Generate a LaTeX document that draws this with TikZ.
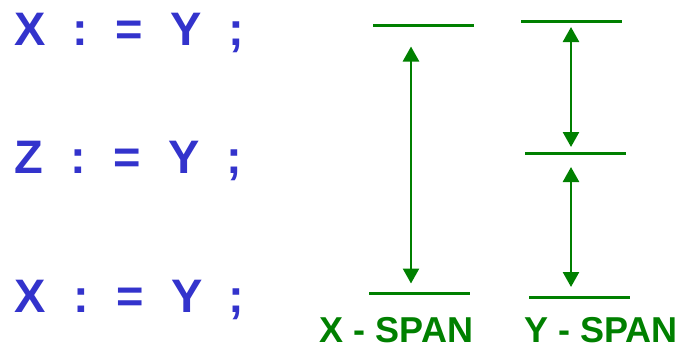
\documentclass[tikz,border=0pt]{standalone}
\usepackage{fontspec}
\setmainfont{Liberation Sans}
\usepackage{xcolor}
\usepackage{tikz}
\usetikzlibrary{arrows.meta}

\definecolor{stmtblue}{RGB}{51,51,204}
\definecolor{spangreen}{RGB}{0,128,0}

\begin{document}
\begin{tikzpicture}[x=1pt,y=-1pt,
  tok/.style={anchor=base,inner sep=0pt,text=stmtblue,font=\fontsize{47}{47}\selectfont\bfseries},
  bar/.style={spangreen,line width=3pt},
  span/.style={spangreen,line width=2.6pt,{Triangle[length=15pt,width=16pt]}-{Triangle[length=15pt,width=16pt]}},
  spanlabel/.style={anchor=base,inner sep=0pt,text=spangreen,font=\fontsize{36}{36}\selectfont\bfseries}]
  \useasboundingbox (0,0) rectangle (683,346);
  % statements
  \node[tok] (x1) at (30,45) {X};   \node[tok] (c1) at (80.5,45) {:};
  \node[tok] (e1) at (129.5,45) {=}; \node[tok] (y1) at (186.5,45) {Y};
  \node[tok] (s1) at (236.5,45) {;};
  \node[tok] (z2) at (28.5,173) {Z}; \node[tok] (c2) at (78,173) {:};
  \node[tok] (e2) at (127,173) {=};  \node[tok] (y2) at (184,173) {Y};
  \node[tok] (s2) at (234,173) {;};
  \node[tok] (x3) at (30,312) {X};   \node[tok] (c3) at (81,312) {:};
  \node[tok] (e3) at (130,312) {=};  \node[tok] (y3) at (187,312) {Y};
  \node[tok] (s3) at (236.5,312) {;};
  % x span
  \draw[bar] (373,25) -- (474,25);
  \draw[bar] (369,293) -- (470,293);
  \coordinate (xa) at (411,46.5);
  \coordinate (xb) at (411,283.5);
  \draw[span] (xa) -- (xb);
  \node[spanlabel] (xlab) at (396.5,342) {X - SPAN};
  % y span
  \draw[bar] (521,21) -- (622,21);
  \draw[bar] (525,153) -- (626,153);
  \draw[bar] (529,297) -- (630,297);
  \coordinate (ya) at (571,27);
  \coordinate (yb) at (571,147);
  \coordinate (yc) at (571,167);
  \coordinate (yd) at (571,287);
  \draw[span] (ya) -- (yb);
  \draw[span] (yc) -- (yd);
  \node[spanlabel] (ylab) at (601,342) {Y - SPAN};
\end{tikzpicture}
\end{document}
